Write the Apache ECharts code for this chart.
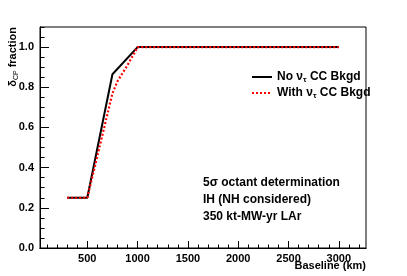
<!DOCTYPE html>
<html><head><meta charset="utf-8">
<script src="https://cdn.jsdelivr.net/npm/echarts@6/dist/echarts.min.js"></script>
<style>html,body{margin:0;padding:0;background:#fff}#c{width:407px;height:276px}</style>
</head><body><div id="c"></div>
<script>
const baseline = [300, 500, 750, 1000, 1500, 2000, 2500, 3000];
const noTauBkgd = [0.25, 0.25, 0.865, 1.0, 1.0, 1.0, 1.0, 1.0];
const baselineTau = [300, 500, 750, 800, 900, 1000, 1500, 2000, 2500, 3000];
const withTauBkgd = [0.25, 0.25, 0.77, 0.83, 0.91, 1.0, 1.0, 1.0, 1.0, 1.0];
const xTickLabels = [500, 1000, 1500, 2000, 2500, 3000];
const yTickLabels = [0, 0.2, 0.4, 0.6, 0.8, 1.0];
const xMinor = []; for (let v = 100; v <= 3200; v += 100) xMinor.push(v);
const yMinor = []; for (let v = 0; v <= 1.1001; v += 0.05) yMinor.push(+v.toFixed(2));
const seriesNames = ['No {n|ν}{s|τ} CC Bkgd', 'With {n|ν}{s|τ} CC Bkgd'];
const notes = ['5σ octant determination', 'IH (NH considered)', '350 kt-MW-yr LAr'];

const FONT = 'Liberation Sans';
const chart = echarts.init(document.getElementById('c'), null, {renderer: 'canvas'});
const lab = {color: '#000', fontFamily: FONT, fontWeight: 'bold', fontSize: 11};
const xBase = {type: 'value', min: 30, max: 3270, position: 'bottom', axisLine: {show: true, lineStyle: {color: '#000', width: 1}}, splitLine: {show: false}};
const yBase = {type: 'value', min: 0, max: 1.1, position: 'left', axisLine: {show: true, lineStyle: {color: '#000', width: 1}}, splitLine: {show: false}};
chart.setOption({
  animation: false,
  backgroundColor: '#fff',
  grid: {left: 40, top: 27, right: 41, bottom: 28, show: true, borderColor: '#000', borderWidth: 1},
  xAxis: [
    Object.assign({}, xBase, {axisTick: {inside: true, length: 7, customValues: xTickLabels, lineStyle: {color: '#000'}},
      axisLabel: Object.assign({customValues: xTickLabels, margin: 5, formatter: v => String(v)}, lab)}),
    Object.assign({}, xBase, {axisTick: {inside: true, length: 3.5, customValues: xMinor, lineStyle: {color: '#000'}}, axisLabel: {show: false}})
  ],
  yAxis: [
    Object.assign({}, yBase, {axisTick: {inside: true, length: 9, customValues: yTickLabels, lineStyle: {color: '#000'}},
      axisLabel: Object.assign({customValues: yTickLabels, margin: 6, formatter: v => v.toFixed(1)}, lab)}),
    Object.assign({}, yBase, {axisTick: {inside: true, length: 4.5, customValues: yMinor, lineStyle: {color: '#000'}}, axisLabel: {show: false}})
  ],
  legend: {
    left: 246, top: 66, orient: 'vertical', itemWidth: 20, itemHeight: 10, itemGap: 3,
    data: [seriesNames[0], seriesNames[1]],
    itemStyle: {opacity: 0},
    textStyle: {color: '#000', fontFamily: FONT, fontWeight: 'bold', fontSize: 12,
      rich: {n: {fontFamily: FONT, fontWeight: 'bold', fontSize: 12}, s: {fontFamily: FONT, fontSize: 8, padding: [6, 0, 0, 0]}}}
  },
  series: [
    {name: seriesNames[0], type: 'line', symbol: 'none', data: baseline.map((x, i) => [x, noTauBkgd[i]]),
      lineStyle: {color: '#000', width: 2}, itemStyle: {color: '#000'}, z: 3},
    {name: seriesNames[1], type: 'line', symbol: 'none', data: baselineTau.map((x, i) => [x, withTauBkgd[i]]),
      lineStyle: {color: '#ff0000', width: 2.2, type: [2, 2]}, itemStyle: {color: '#ff0000'}, z: 4}
  ],
  graphic: [
    {type: 'text', x: 13, y: 27, rotation: Math.PI / 2,
      style: {text: 'δ{s|CP} fraction', align: 'right', verticalAlign: 'middle', fill: '#000',
        font: 'bold 11px "Liberation Sans"',
        rich: {s: {fontFamily: FONT, fontSize: 7, padding: [6, 0, 0, 0]}}}},
    {type: 'text', x: 366, y: 266, style: {text: 'Baseline (km)', align: 'right', verticalAlign: 'middle', fill: '#000', font: 'bold 11px "Liberation Sans"'}},
    {type: 'text', x: 203, y: 183, style: {text: notes[0], align: 'left', verticalAlign: 'middle', fill: '#000', font: 'bold 12px "Liberation Sans"'}},
    {type: 'text', x: 203, y: 200, style: {text: notes[1], align: 'left', verticalAlign: 'middle', fill: '#000', font: 'bold 12px "Liberation Sans"'}},
    {type: 'text', x: 203, y: 217, style: {text: notes[2], align: 'left', verticalAlign: 'middle', fill: '#000', font: 'bold 12px "Liberation Sans"'}}
  ]
});
</script></body></html>
